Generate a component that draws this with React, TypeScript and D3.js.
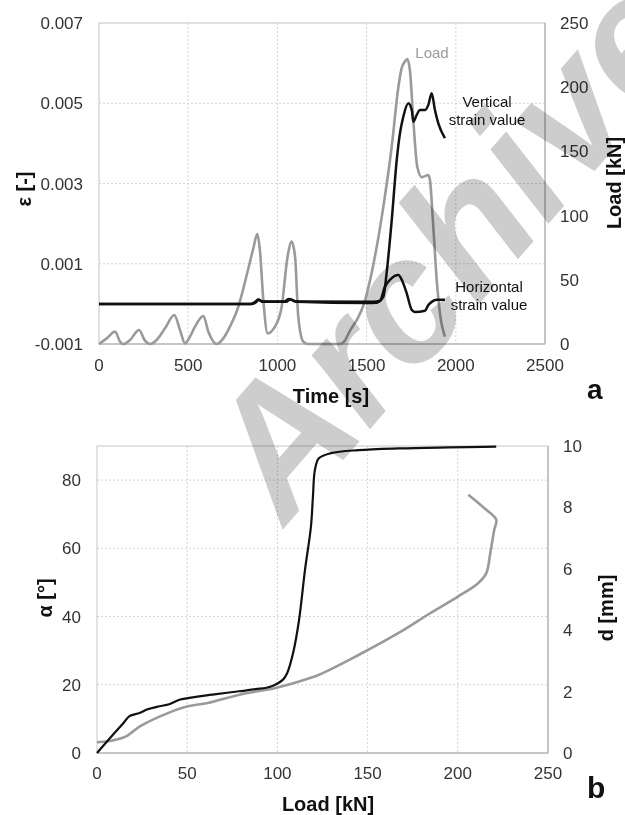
import React from "react";
import * as d3 from "d3";

// ---------- Chart a data ----------
const loadTime = [0, 43, 90, 118, 136, 174, 224, 258, 286, 323, 370, 422, 454, 482, 510, 538, 585, 613, 660, 697, 734, 781, 828, 865, 887, 902, 921, 945, 986, 1024, 1057, 1080, 1099, 1117, 1145, 1173, 1350, 1380, 1407, 1450, 1482, 1538, 1594, 1641, 1678, 1697, 1715, 1728, 1743, 1762, 1784, 1809, 1846, 1855, 1874, 1893, 1911, 1939];
const loadValue = [0, 4.4, 9.6, 1.8, 0, 3.1, 10.9, 2.6, 0, 3.1, 12.2, 22.6, 10.9, 0.5, 5.7, 13.5, 21.8, 9.6, 0, 4.4, 13.5, 29, 53.7, 74.5, 85.7, 73.2, 34.3, 8.3, 13.5, 29, 68, 79.7, 68, 21.3, 1.8, 0, 0, 3, 10.5, 20, 30, 62, 107, 154, 200, 215, 220, 222, 213, 174, 138, 130, 131.6, 127.7, 91, 50, 24, 5.7];

const vertTime = [0, 860, 880, 895, 920, 1050, 1070, 1085, 1110, 1500, 1556, 1594, 1612, 1641, 1669, 1687, 1706, 1734, 1753, 1762, 1781, 1799, 1827, 1846, 1865, 1883, 1902, 1939];
const vertStrain = [0.0, 0.0, 0.00004, 0.00010, 0.00005, 0.00005, 0.00011, 0.00009, 0.00005, 0.00002, 0.00003, 0.00018, 0.00076, 0.00209, 0.00359, 0.00425, 0.00467, 0.0050, 0.00483, 0.00454, 0.00471, 0.00483, 0.00483, 0.00496, 0.00525, 0.00483, 0.0045, 0.00413];

const horTime = [0, 850, 875, 892, 915, 1040, 1062, 1078, 1100, 1540, 1575, 1603, 1631, 1678, 1697, 1725, 1753, 1771, 1827, 1846, 1865, 1893, 1939];
const horStrain = [0.0, 0.0, 0.00005, 0.00011, 0.00006, 0.00006, 0.00012, 0.00011, 0.00006, 0.00005, 0.00008, 0.00043, 0.0006, 0.00072, 0.0006, 0.00026, -0.00015, -0.0002, -0.00017, -0.00003, 0.00005, 0.0001, 0.0001];

const timeTicks = [0, 500, 1000, 1500, 2000, 2500];
const strainTicks = [-0.001, 0.001, 0.003, 0.005, 0.007];
const loadTicksA = [0, 50, 100, 150, 200, 250];

// ---------- Chart b data ----------
const alphaLoad = [0, 8.1, 14.7, 18, 23.6, 28, 34.6, 40, 45.7, 56.7, 65, 78.8, 88, 96.5, 103.1, 105.4, 108.7, 112, 115.3, 118.6, 119.7, 120.8, 123, 129.7, 145, 167.2, 195, 221.3];
const alphaValue = [0, 4.9, 8.8, 10.8, 11.7, 12.8, 13.7, 14.3, 15.6, 16.6, 17.2, 18.1, 18.7, 19.5, 21.5, 23.4, 29.3, 39, 53.7, 66.4, 75.2, 83, 86.4, 87.9, 88.8, 89.3, 89.6, 89.8];

const dLoad = [0, 6.2, 16.1, 23.8, 39.3, 50.3, 61.4, 79, 98.9, 112.1, 123.1, 145.2, 167.2, 184.9, 200.3, 211.4, 215.8, 218, 220.2, 221.3, 214.6, 205.8];
const dValue = [0.35, 0.38, 0.54, 0.87, 1.3, 1.52, 1.63, 1.9, 2.12, 2.33, 2.55, 3.2, 3.91, 4.56, 5.1, 5.54, 5.86, 6.51, 7.27, 7.6, 7.98, 8.41];

const loadTicksB = [0, 50, 100, 150, 200, 250];
const alphaTicks = [0, 20, 40, 60, 80];
const dTicks = [0, 2, 4, 6, 8, 10];

const FONT = "'Liberation Sans', Arial, Helvetica, sans-serif";
const TICK = "#333333";
const GRID = "#d4d4d4";
const AXIS = "#a8a8a8";
const BLACK = "#111111";
const GRAY = "#9a9a9a";

function zip(xs: number[], ys: number[]): [number, number][] {
  return xs.map((x, i) => [x, ys[i]]);
}

function ChartA() {
  const L = 99, R = 545, T = 23, B = 344;
  const x = d3.scaleLinear().domain([0, 2500]).range([L, R]);
  const yS = d3.scaleLinear().domain([-0.001, 0.007]).range([B, T]);
  const yL = d3.scaleLinear().domain([0, 250]).range([B, T]);
  const lineLoad = d3.line<[number, number]>().x(d => x(d[0])).y(d => yL(d[1])).curve(d3.curveMonotoneX);
  const lineS = d3.line<[number, number]>().x(d => x(d[0])).y(d => yS(d[1])).curve(d3.curveMonotoneX);
  return (
    <g>
      {timeTicks.slice(1, -1).map(t => (
        <line key={"gx" + t} x1={x(t)} x2={x(t)} y1={T} y2={B} stroke={GRID} strokeDasharray="2,2" />
      ))}
      {strainTicks.slice(1, -1).map(t => (
        <line key={"gy" + t} x1={L} x2={R} y1={yS(t)} y2={yS(t)} stroke={GRID} strokeDasharray="2,2" />
      ))}
      <rect x={L} y={T} width={R - L} height={B - T} fill="none" stroke="#c4c4c4" />
      <line x1={L} x2={R} y1={B} y2={B} stroke={AXIS} />
      <line x1={R} x2={R} y1={T} y2={B} stroke={AXIS} />
      {timeTicks.map(t => (
        <text key={"tx" + t} x={x(t)} y={371} textAnchor="middle" fontSize={17} fill={TICK}>{t}</text>
      ))}
      {strainTicks.map(t => (
        <text key={"ty" + t} x={83} y={yS(t) + 6} textAnchor="end" fontSize={17} fill={TICK}>{d3.format(".3f")(t).replace("−", "-")}</text>
      ))}
      {loadTicksA.map(t => (
        <text key={"tl" + t} x={560} y={yL(t) + 6} textAnchor="start" fontSize={17} fill={TICK}>{t}</text>
      ))}
      <path d={lineLoad(zip(loadTime, loadValue)) || ""} fill="none" stroke={GRAY} strokeWidth={2.6} />
      <path d={lineS(zip(horTime, horStrain)) || ""} fill="none" stroke={BLACK} strokeWidth={2.5} />
      <path d={lineS(zip(vertTime, vertStrain)) || ""} fill="none" stroke={BLACK} strokeWidth={2.5} />
      <text x={432} y={58} textAnchor="middle" fontSize={15} fill={GRAY}>Load</text>
      <text x={487} y={107} textAnchor="middle" fontSize={15} fill={BLACK}>Vertical</text>
      <text x={487} y={125} textAnchor="middle" fontSize={15} fill={BLACK}>strain value</text>
      <text x={489} y={292} textAnchor="middle" fontSize={15} fill={BLACK}>Horizontal</text>
      <text x={489} y={310} textAnchor="middle" fontSize={15} fill={BLACK}>strain value</text>
      <text x={331} y={403} textAnchor="middle" fontSize={20} fontWeight="bold" fill={BLACK}>Time [s]</text>
      <text transform={`translate(31,189) rotate(-90)`} textAnchor="middle" fontSize={20} fontWeight="bold" fill={BLACK}>ε  [-]</text>
      <text transform={`translate(621,183) rotate(-90)`} textAnchor="middle" fontSize={20} fontWeight="bold" fill={BLACK}>Load [kN]</text>
      <text x={587} y={399} fontSize={28} fontWeight="bold" fill={BLACK}>a</text>
    </g>
  );
}

function ChartB() {
  const L = 97, R = 548, T = 446, B = 753;
  const x = d3.scaleLinear().domain([0, 250]).range([L, R]);
  const yA = d3.scaleLinear().domain([0, 90]).range([B, T]);
  const yD = d3.scaleLinear().domain([0, 10]).range([B, T]);
  const lineA = d3.line<[number, number]>().x(d => x(d[0])).y(d => yA(d[1])).curve(d3.curveCatmullRom.alpha(0.5));
  const lineD = d3.line<[number, number]>().x(d => x(d[0])).y(d => yD(d[1])).curve(d3.curveCatmullRom.alpha(0.5));
  return (
    <g>
      {loadTicksB.slice(1, -1).map(t => (
        <line key={"gx" + t} x1={x(t)} x2={x(t)} y1={T} y2={B} stroke={GRID} strokeDasharray="2,2" />
      ))}
      {alphaTicks.slice(1).map(t => (
        <line key={"gy" + t} x1={L} x2={R} y1={yA(t)} y2={yA(t)} stroke={GRID} strokeDasharray="2,2" />
      ))}
      <rect x={L} y={T} width={R - L} height={B - T} fill="none" stroke="#c8c8c8" />
      <line x1={L} x2={R} y1={B} y2={B} stroke={AXIS} />
      <line x1={R} x2={R} y1={T} y2={B} stroke={AXIS} />
      {loadTicksB.map(t => (
        <text key={"tx" + t} x={x(t)} y={779} textAnchor="middle" fontSize={17} fill={TICK}>{t}</text>
      ))}
      {alphaTicks.map(t => (
        <text key={"ta" + t} x={81} y={yA(t) + 6} textAnchor="end" fontSize={17} fill={TICK}>{t}</text>
      ))}
      {dTicks.map(t => (
        <text key={"td" + t} x={563} y={yD(t) + 6} textAnchor="start" fontSize={17} fill={TICK}>{t}</text>
      ))}
      <path d={lineD(zip(dLoad, dValue)) || ""} fill="none" stroke={GRAY} strokeWidth={2.6} />
      <path d={lineA(zip(alphaLoad, alphaValue)) || ""} fill="none" stroke={BLACK} strokeWidth={2.2} />
      <text x={328} y={811} textAnchor="middle" fontSize={20} fontWeight="bold" fill={BLACK}>Load [kN]</text>
      <text transform={`translate(52,598) rotate(-90)`} textAnchor="middle" fontSize={20} fontWeight="bold" fill={BLACK}>α [°]</text>
      <text transform={`translate(613,608) rotate(-90)`} textAnchor="middle" fontSize={20} fontWeight="bold" fill={BLACK}>d [mm]</text>
      <text x={587} y={798} fontSize={30} fontWeight="bold" fill={BLACK}>b</text>
    </g>
  );
}

export default function App() {
  return (
    <svg width={625} height={815} style={{ position: "absolute", left: 0, top: 0, background: "#fff" }} fontFamily={FONT}>
      <rect width={625} height={815} fill="#fff" />
      <ChartA />
      <ChartB />
      <text transform="translate(285,527) rotate(-49)" fontSize={175} fontWeight="bold" fontStyle="italic" fill="#c4c4c4" opacity={0.85} style={{ mixBlendMode: "multiply" }}>Archive</text>
    </svg>
  );
}
